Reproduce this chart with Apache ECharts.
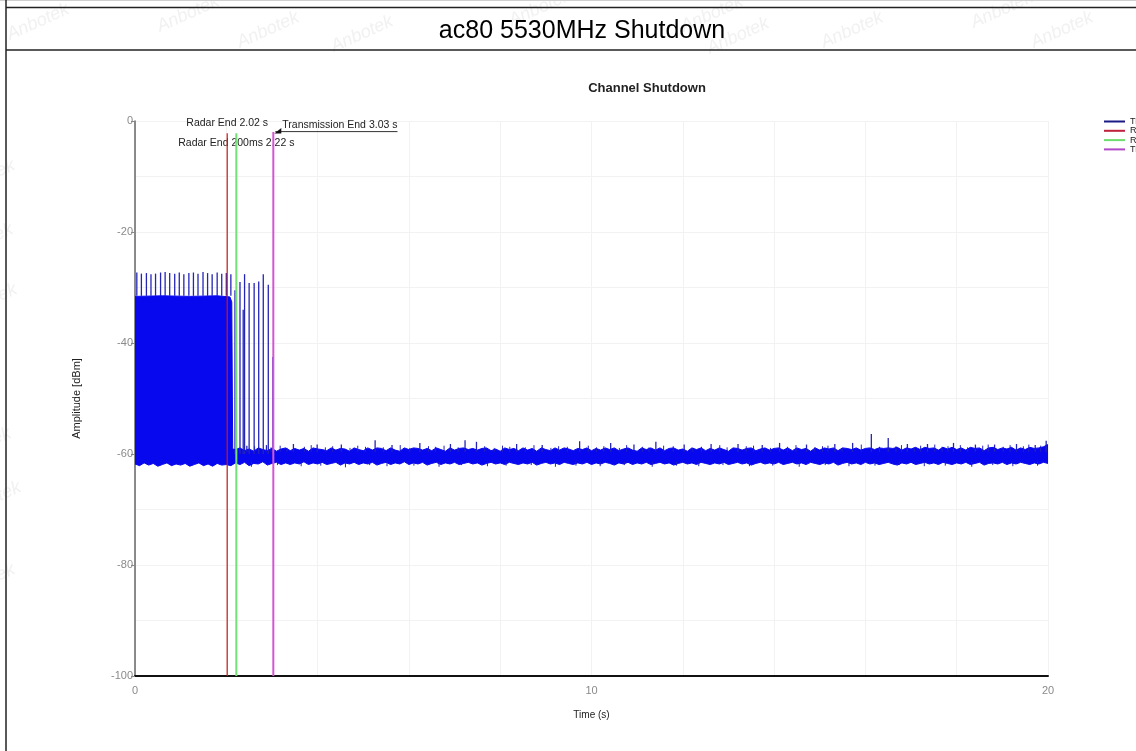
<!DOCTYPE html>
<html><head><meta charset="utf-8">
<script src="https://cdn.jsdelivr.net/npm/echarts@6/dist/echarts.min.js"></script>
<style>html,body{margin:0;padding:0;background:#fff}#chart{width:1136px;height:751px}</style>
</head><body><div id="chart"></div>
<script>
// ---------------- data ----------------
const pageTitle = 'ac80 5530MHz Shutdown';
const chartTitle = 'Channel Shutdown';
const xAxisName = 'Time (s)';
const yAxisName = 'Amplitude [dBm]';
const legendNames = ['Trace', 'Radar End', 'Radar End 200ms', 'Transmission End'];

const eventNames = ['Radar End', 'Radar End 200ms', 'Transmission End'];
const eventTimes = [2.02, 2.22, 3.03];
const eventTops = [-2.2, -2.2, -2.0];

// top edge of the dense transmission block (time, dBm)
const blockTopPoints = [[0, -31.6], [0.6, -31.5], [1.2, -31.6], [1.8, -31.5], [2.08, -31.7], [2.12, -32.6], [2.14, -59.1]];

// sweep sampling for the noise envelopes
const sampleStep = 0.1;
const noiseTopStart = 2.2;
const noiseTop = [
  -59.2,-58.9,-59.4,-59.1,-59.5,-58.9,-59.2,-59.4,-59.0,-59.5,
  -59.1,-58.9,-59.4,-59.0,-59.3,-59.0,-59.5,-58.9,-59.1,-59.2,
  -59.4,-58.9,-59.3,-59.0,-59.1,-59.5,-58.9,-59.2,-59.4,-58.9,
  -59.3,-58.9,-59.0,-59.4,-58.9,-59.3,-59.5,-58.9,-59.2,-58.9,
  -59.0,-59.3,-59.0,-59.4,-58.9,-59.2,-59.5,-58.9,-59.3,-59.0,
  -58.9,-59.2,-59.0,-59.3,-59.0,-58.9,-59.4,-59.1,-59.5,-58.9,
  -59.2,-59.0,-59.4,-58.9,-59.3,-59.0,-59.5,-58.9,-59.2,-59.4,
  -58.9,-59.3,-58.9,-59.1,-59.4,-59.0,-59.2,-58.9,-59.4,-59.0,
  -59.3,-58.9,-59.2,-58.9,-59.4,-59.1,-58.9,-59.3,-59.5,-58.9,
  -59.2,-58.9,-59.3,-58.9,-59.4,-59.0,-58.9,-59.3,-59.1,-59.5,
  -58.9,-59.2,-58.9,-59.4,-59.0,-59.3,-58.9,-59.2,-59.5,-58.9,
  -59.0,-59.3,-59.0,-58.9,-59.4,-59.1,-58.9,-59.3,-59.0,-58.9,
  -59.3,-58.9,-59.4,-58.9,-59.2,-59.0,-59.5,-58.9,-59.3,-58.9,
  -59.1,-58.9,-59.4,-58.9,-59.0,-59.2,-58.9,-59.3,-59.0,-58.9,
  -59.2,-58.9,-59.0,-58.9,-59.0,-58.8,-59.3,-58.9,-59.1,-58.8,
  -59.2,-58.8,-59.0,-58.9,-59.3,-58.8,-59.1,-58.8,-59.2,-58.9,
  -59.3,-58.8,-59.0,-58.9,-59.4,-58.9,-58.8,-59.2,-58.9,-59.1,
  -58.8,-59.3,-58.9,-59.2,-58.8,-59.0,-58.9,-58.7,-58.3
];
const floorStart = 0;
const traceBottom = [
  -61.8,-62.1,-61.6,-62.0,-61.7,-62.2,-61.9,-61.6,-62.1,-61.8,
  -62.0,-61.7,-62.2,-61.9,-61.6,-62.1,-61.8,-62.2,-61.7,-62.0,
  -61.9,-62.1,-61.6,-61.9,-61.5,-62.1,-61.7,-61.8,-61.4,-62.0,
  -61.7,-61.5,-61.9,-61.6,-61.9,-61.6,-61.8,-61.4,-61.9,-61.6,
  -61.8,-61.5,-61.9,-61.7,-61.5,-62.0,-61.6,-61.8,-61.5,-61.9,
  -61.6,-61.8,-61.5,-62.0,-61.7,-61.5,-61.9,-61.6,-61.8,-61.4,
  -61.9,-61.6,-61.8,-61.5,-62.0,-61.7,-61.5,-61.9,-61.6,-61.8,
  -61.5,-61.9,-61.7,-61.5,-61.8,-61.6,-62.0,-61.7,-61.5,-61.8,
  -61.6,-61.9,-61.5,-61.7,-61.9,-61.6,-61.8,-61.5,-62.0,-61.7,
  -61.5,-61.8,-61.6,-61.9,-61.5,-61.7,-61.9,-61.6,-61.8,-61.5,
  -61.9,-61.6,-61.8,-61.5,-61.7,-62.0,-61.6,-61.8,-61.5,-61.9,
  -61.6,-61.8,-61.5,-61.9,-61.7,-61.5,-61.8,-61.6,-62.0,-61.7,
  -61.5,-61.8,-61.6,-61.9,-61.5,-61.7,-61.9,-61.6,-61.8,-61.5,
  -61.9,-61.7,-61.5,-61.8,-61.6,-62.0,-61.7,-61.5,-61.8,-61.6,
  -61.8,-61.5,-61.9,-61.7,-61.5,-61.8,-61.6,-61.9,-61.5,-61.7,
  -61.9,-61.6,-61.8,-61.5,-62.0,-61.7,-61.5,-61.8,-61.6,-61.9,
  -61.5,-61.8,-61.6,-61.9,-61.7,-61.5,-61.8,-62.0,-61.6,-61.8,
  -61.5,-61.9,-61.7,-61.5,-61.8,-61.6,-61.9,-61.5,-61.7,-61.9,
  -61.6,-61.8,-61.5,-61.9,-61.7,-61.5,-62.0,-61.7,-61.6,-61.8,
  -61.5,-61.9,-61.6,-61.8,-61.5,-61.7,-61.9,-61.6,-61.8,-61.5,
  -61.7
];

// radar-burst pulses: time, peak, foot
const pulseTimes = [0.04,0.14,0.25,0.35,0.45,0.56,0.66,0.76,0.87,0.97,1.07,1.18,1.28,1.38,1.49,1.59,1.69,1.80,1.90,2.00,2.10,
                    2.19,2.30,2.37,2.40,2.50,2.61,2.71,2.81,2.92,3.02];
const pulsePeaks = [-27.3,-27.5,-27.4,-27.6,-27.5,-27.3,-27.2,-27.4,-27.5,-27.3,-27.6,-27.4,-27.3,-27.5,-27.2,-27.4,-27.6,-27.3,-27.5,-27.4,-27.6,
                    -30.5,-29.0,-34.0,-27.6,-29.2,-29.2,-28.9,-27.6,-29.5,-42.5];
const pulseFeet = [-31.5,-31.5,-31.5,-31.5,-31.5,-31.5,-31.5,-31.5,-31.5,-31.5,-31.5,-31.5,-31.5,-31.5,-31.5,-31.5,-31.5,-31.5,-31.5,-31.5,-31.5,
                   -60.0,-60.0,-60.0,-60.0,-60.0,-60.0,-60.0,-60.0,-60.0,-60.0];
// taller noise peaks
const noisePeakTimes = [2.45,2.88,3.47,3.99,4.52,5.26,5.63,6.24,6.91,7.23,7.48,8.36,8.92,9.74,10.42,10.93,11.41,12.03,12.62,13.21,
                        13.74,14.12,14.71,15.33,15.72,16.13,16.50,16.92,17.36,17.93,18.41,18.83,19.31,19.72,19.96];
const noisePeakValues = [-58.5,-58.4,-58.2,-58.3,-58.3,-57.5,-58.4,-58.0,-58.2,-57.5,-57.8,-58.2,-58.4,-57.7,-58.0,-58.3,-57.8,-58.3,-58.2,-58.2,
                         -58.4,-58.0,-58.3,-58.2,-58.0,-56.4,-57.1,-58.2,-58.2,-58.0,-58.3,-58.3,-58.2,-58.4,-57.6];
// small noise peaks
const smallPeakTimes = [2.62,2.98,3.18,3.33,3.71,3.86,4.17,4.33,4.71,4.88,5.05,5.44,5.81,6.02,6.43,6.58,6.77,7.08,7.66,7.87,
                        8.05,8.21,8.55,8.74,9.11,9.28,9.47,9.93,10.11,10.27,10.61,10.77,11.12,11.26,11.58,11.79,12.22,12.41,12.81,12.97,
                        13.39,13.55,13.92,14.29,14.48,14.89,15.06,15.18,15.49,15.91,16.31,16.67,16.79,17.07,17.21,17.52,17.68,17.81,18.08,18.24,
                        18.57,18.69,19.02,19.17,19.46,19.58,19.84];
const smallPeakValues = [-58.6,-58.8,-58.5,-58.9,-58.7,-58.4,-58.8,-58.6,-58.9,-58.5,-58.7,-58.8,-58.4,-58.9,-58.6,-58.7,-58.5,-58.8,-58.6,-58.9,
                         -58.5,-58.7,-58.8,-58.4,-58.9,-58.6,-58.7,-58.5,-58.8,-58.6,-58.9,-58.4,-58.7,-58.8,-58.5,-58.6,-58.9,-58.7,-58.4,-58.8,
                         -58.6,-58.5,-58.9,-58.7,-58.4,-58.8,-58.6,-58.5,-58.9,-58.3,-58.7,-58.6,-58.4,-58.8,-58.5,-58.3,-58.7,-58.6,-58.4,-58.8,
                         -58.5,-58.3,-58.7,-58.4,-58.6,-58.3,-58.5];
// downward noise dips
const dipTimes = [2.55,3.12,3.64,4.07,4.61,5.14,5.52,6.11,6.66,7.15,7.72,8.13,8.68,9.21,9.66,10.19,10.72,11.33,11.86,12.35,
                  12.88,13.46,13.97,14.55,15.12,15.64,16.21,16.74,17.29,17.75,18.33,18.79,19.23,19.77];
const dipValues = [-62.3,-62.0,-62.2,-62.1,-62.4,-62.0,-62.2,-62.1,-62.3,-62.0,-62.2,-62.1,-62.0,-62.3,-62.1,-62.2,-62.0,-62.3,-62.1,-62.2,
                   -62.0,-62.2,-62.1,-62.3,-62.0,-62.2,-62.1,-62.0,-62.2,-62.1,-62.3,-62.0,-62.2,-62.1];
const noiseFoot = -59.6;
const dipFoot = -61.4;

const xTicks = {min: 0, max: 20, interval: 10};
const yTicks = {min: -100, max: 0, interval: 20};

// ---------------- style ----------------
const FONT = 'Liberation Sans, Arial, sans-serif';
const BLUE = '#0808ee';
const PULSE = '#2424b8';
const eventColors = ['#d01818', '#72e072', '#d455d4'];
const legendColors = ['#1a1a86', '#c0203c', '#6edc6e', '#b048c8'];
const GRID = '#f2f2f2';

const topData = blockTopPoints.concat(noiseTop.map((v, i) => [+(noiseTopStart + i * sampleStep).toFixed(2), v]));
const bottomData = traceBottom.map((v, i) => [+(floorStart + i * sampleStep).toFixed(2), v]);
const pulseData = pulseTimes.map((t, i) => [t, pulsePeaks[i], pulseFeet[i], 1.3])
  .concat(noisePeakTimes.map((t, i) => [t, noisePeakValues[i], noiseFoot, 1.3]))
  .concat(smallPeakTimes.map((t, i) => [t, smallPeakValues[i], noiseFoot, 1]))
  .concat(dipTimes.map((t, i) => [t, dipValues[i], dipFoot, 1]));

const ANNOT_FONT = '10.5px ' + FONT;
const mctx = document.createElement('canvas').getContext('2d');
mctx.font = ANNOT_FONT;

const chart = echarts.init(document.getElementById('chart'), null, {renderer: 'canvas'});

const series = [
  {name: 'Trace', type: 'line', data: topData, symbol: 'none', z: 2, silent: true,
   lineStyle: {color: BLUE, width: 1}, itemStyle: {color: BLUE},
   areaStyle: {color: BLUE, opacity: 1, origin: -60.5}},
  {name: 'Trace', type: 'line', data: bottomData, symbol: 'none', z: 2, silent: true,
   lineStyle: {color: BLUE, width: 1}, itemStyle: {color: BLUE},
   areaStyle: {color: BLUE, opacity: 1, origin: -60}},
  {name: 'Trace', type: 'custom', data: pulseData, z: 2, silent: true,
   encode: {x: 0, y: [1, 2]},
   renderItem: function (params, api) {
     const a = api.coord([api.value(0), api.value(2)]);
     const b = api.coord([api.value(0), api.value(1)]);
     return {type: 'line', shape: {x1: a[0], y1: a[1], x2: b[0], y2: b[1]},
             style: {stroke: PULSE, lineWidth: api.value(3)}};
   }},
  {name: 'annotations', type: 'custom', z: 3, silent: true,
   data: eventTimes.map((t, i) => [t, eventTops[i], i]),
   encode: {x: 0, y: 1},
   renderItem: function (params, api) {
     const i = api.value(2);
     const p = api.coord([api.value(0), api.value(1)]);
     const txt = eventNames[i] + ' ' + eventTimes[i].toFixed(2) + ' s';
     const st = {text: txt, font: ANNOT_FONT, fill: '#222'};
     if (i === 0) {
       return {type: 'text', style: Object.assign(st, {x: p[0], y: p[1] - 10, align: 'center', verticalAlign: 'middle'})};
     }
     if (i === 1) {
       return {type: 'text', style: Object.assign(st, {x: p[0], y: p[1] + 10, align: 'center', verticalAlign: 'middle'})};
     }
     const w = mctx.measureText(txt).width;
     const x0 = p[0] + 9;
     return {type: 'group', children: [
       {type: 'text', style: Object.assign(st, {x: x0, y: p[1] - 7, align: 'left', verticalAlign: 'middle'})},
       {type: 'line', shape: {x1: p[0] + 2, y1: p[1] - 0.5, x2: x0 + w, y2: p[1] - 0.5}, style: {stroke: '#333', lineWidth: 1}},
       {type: 'polygon', shape: {points: [[p[0] + 1, p[1] + 1.5], [p[0] + 8, p[1] - 4], [p[0] + 8, p[1] + 1.5]]}, style: {fill: '#111'}}
     ]};
   }}
];
eventNames.forEach((n, i) => {
  series.push({name: n, type: 'line', z: 5, symbol: 'none', silent: true,
    data: [[eventTimes[i], eventTops[i]], [eventTimes[i], yTicks.min]],
    lineStyle: {color: eventColors[i], width: i === 0 ? 1.2 : 2}, itemStyle: {color: eventColors[i]}});
});

const watermarks = [[38, 22], [188, 14], [268, 30], [362, 34], [540, 8], [712, 14], [738, 36], [852, 30], [1002, 10], [1062, 30],
                    [-16, 178], [-18, 242], [-14, 302], [-20, 446], [-10, 500], [-16, 582]];

chart.setOption({
  animation: false,
  backgroundColor: '#fff',
  textStyle: {fontFamily: FONT},
  title: [
    {text: pageTitle, left: 577, top: 14, textAlign: 'center',
     textStyle: {fontSize: 25, fontWeight: 'normal', color: '#000', fontFamily: FONT}},
    {text: chartTitle, left: 642, top: 77, textAlign: 'center',
     textStyle: {fontSize: 13, fontWeight: 'bold', color: '#222', fontFamily: FONT}}
  ],
  graphic: [
    ...watermarks.map(p => ({type: 'text', x: p[0], y: p[1], rotation: 0.42, z: -10, silent: true,
      style: {text: 'Anbotek', font: 'italic 18px ' + FONT, fill: '#f1f1f1', align: 'center', verticalAlign: 'middle'}})),
    {type: 'line', silent: true, z: 100, shape: {x1: 0, y1: 0.5, x2: 1136, y2: 0.5}, style: {stroke: '#cfcfcf', lineWidth: 1}},
    {type: 'line', silent: true, z: 100, shape: {x1: 6, y1: 7.5, x2: 1136, y2: 7.5}, style: {stroke: '#222', lineWidth: 1.5}},
    {type: 'line', silent: true, z: 100, shape: {x1: 6, y1: 50, x2: 1136, y2: 50}, style: {stroke: '#222', lineWidth: 1.5}},
    {type: 'line', silent: true, z: 100, shape: {x1: 6, y1: 0, x2: 6, y2: 751}, style: {stroke: '#222', lineWidth: 1.5}}
  ],
  legend: {
    data: legendNames.map((n, i) => ({name: n, itemStyle: {color: legendColors[i]}})),
    orient: 'vertical', left: 1104, top: 117, icon: 'rect', itemWidth: 21, itemHeight: 2, itemGap: 0.3,
    padding: 0, selectedMode: false,
    textStyle: {fontSize: 9, lineHeight: 9, color: '#222', fontFamily: FONT}
  },
  grid: {left: 135, top: 121, width: 913, height: 555, containLabel: false},
  xAxis: {
    type: 'value', min: xTicks.min, max: xTicks.max, interval: xTicks.interval,
    name: xAxisName, nameLocation: 'middle', nameGap: 34,
    nameTextStyle: {fontSize: 10, color: '#222', fontFamily: FONT},
    axisLine: {show: true, onZero: false, lineStyle: {color: '#111', width: 2}},
    axisTick: {show: false},
    axisLabel: {fontSize: 11, color: '#8a8a8a', margin: 9, fontFamily: FONT},
    splitLine: {show: true, lineStyle: {color: GRID, width: 1}},
    minorTick: {show: false, splitNumber: 5},
    minorSplitLine: {show: true, lineStyle: {color: GRID, width: 1}}
  },
  yAxis: {
    type: 'value', min: yTicks.min, max: yTicks.max, interval: yTicks.interval,
    name: yAxisName, nameLocation: 'middle', nameGap: 53, nameRotate: 90,
    nameTextStyle: {fontSize: 11, color: '#222', fontFamily: FONT},
    axisLine: {show: true, onZero: false, lineStyle: {color: '#666', width: 1.5}},
    axisTick: {show: true, length: 4, lineStyle: {color: '#888'}},
    axisLabel: {fontSize: 11, color: '#8a8a8a', margin: 2, fontFamily: FONT},
    splitLine: {show: true, lineStyle: {color: GRID, width: 1}},
    minorTick: {show: false, splitNumber: 2},
    minorSplitLine: {show: true, lineStyle: {color: GRID, width: 1}}
  },
  series: series
});
</script>
</body></html>
